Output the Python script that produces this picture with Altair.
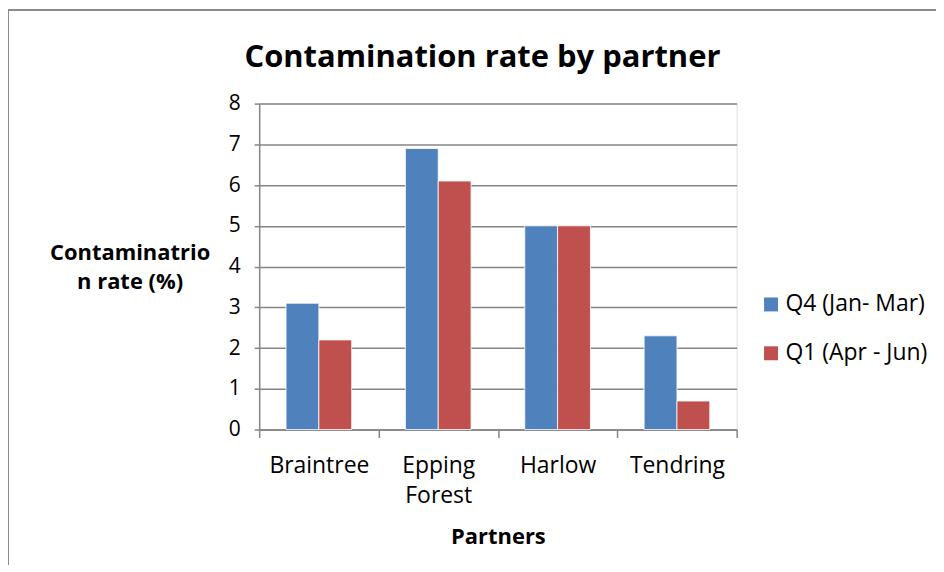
import altair as alt
import pandas as pd

partners = ["Braintree", "Epping Forest", "Harlow", "Tendring"]
series = ["Q4 (Jan- Mar)", "Q1 (Apr - Jun)"]
q4_values = [3.1, 6.9, 5.0, 2.3]
q1_values = [2.2, 6.1, 5.0, 0.7]
y_ticks = [0, 1, 2, 3, 4, 5, 6, 7, 8]
colors = ["#4F81BD", "#C0504D"]
chart_title = "Contamination rate by partner"

rows = []
for p, a, b in zip(partners, q4_values, q1_values):
    rows.append({"Partner": p, "Series": series[0], "Value": a})
    rows.append({"Partner": p, "Series": series[1], "Value": b})
df = pd.DataFrame(rows)

FONT = "Open Sans"
GRID = "#868686"

bars = alt.Chart(df).mark_bar(stroke="white", strokeWidth=0.8).encode(
    x=alt.X(
        "Partner:N",
        sort=partners,
        scale=alt.Scale(paddingInner=0, paddingOuter=0),
        axis=alt.Axis(
            title="Partners",
            labelAngle=0,
            tickBand="extent",
            labelExpr="datum.label == 'Epping Forest' ? ['Epping', 'Forest'] : datum.label",
            labelFont=FONT,
            labelFontSize=23,
            labelColor="#000000",
            labelPadding=17,
            labelLineHeight=30,
            tickSize=8,
            tickColor=GRID,
            tickWidth=1.5,
            domainColor=GRID,
            domainWidth=1.5,
            titleFont=FONT,
            titleFontSize=22,
            titleFontWeight="bold",
            titleColor="#000000",
            titlePadding=19,
        ),
    ),
    xOffset=alt.XOffset(
        "Series:N",
        sort=series,
        scale=alt.Scale(paddingInner=0, paddingOuter=0.818),
    ),
    y=alt.Y(
        "Value:Q",
        scale=alt.Scale(domain=[0, 8]),
        axis=alt.Axis(
            values=y_ticks,
            title=["Contaminatrio", "n rate (%)"],
            titleAngle=0,
            titleAlign="center",
            titleX=-130,
            titleY=161,
            titleLineHeight=30,
            titleFont=FONT,
            titleFontSize=22,
            titleFontWeight="bold",
            titleColor="#000000",
            labelFont=FONT,
            labelFontSize=21,
            labelColor="#000000",
            labelPadding=14,
            tickSize=5,
            tickColor=GRID,
            tickWidth=1.5,
            domainColor=GRID,
            domainWidth=1.5,
            gridColor=GRID,
            gridWidth=1.5,
        ),
    ),
    color=alt.Color(
        "Series:N",
        sort=series,
        scale=alt.Scale(domain=series, range=colors),
        legend=alt.Legend(
            title=None,
            orient="none",
            legendX=502,
            legendY=190,
            symbolType="square",
            symbolSize=196,
            symbolStrokeWidth=0,
            labelFont=FONT,
            labelFontSize=23,
            labelColor="#000000",
            rowPadding=25,
            labelOffset=3,
        ),
    ),
)

frame_data = alt.Data(values=[{"k": 1}])
title_text = alt.Chart(frame_data).mark_text(
    font=FONT, fontSize=31, fontWeight="bold", color="#000000",
    align="center", baseline="alphabetic",
).encode(x=alt.value(224), y=alt.value(-37), text=alt.value(chart_title))

left_border = alt.Chart(frame_data).mark_rule(color="#8c8c8c", strokeWidth=2).encode(
    x=alt.value(-252), y=alt.value(-94), y2=alt.value(470)
)
top_border = alt.Chart(frame_data).mark_rule(color="#8c8c8c", strokeWidth=2).encode(
    x=alt.value(-252), x2=alt.value(680), y=alt.value(-94)
)

chart = alt.layer(bars, title_text, left_border, top_border).properties(
    width=479,
    height=327,
    autosize=alt.AutoSizeParams(type="none"),
    padding={"left": 252, "top": 95, "right": 200, "bottom": 135},
).configure_view(stroke=None).configure(background="white")

chart.save("out.html", embed_options={"renderer": "svg", "actions": False})
